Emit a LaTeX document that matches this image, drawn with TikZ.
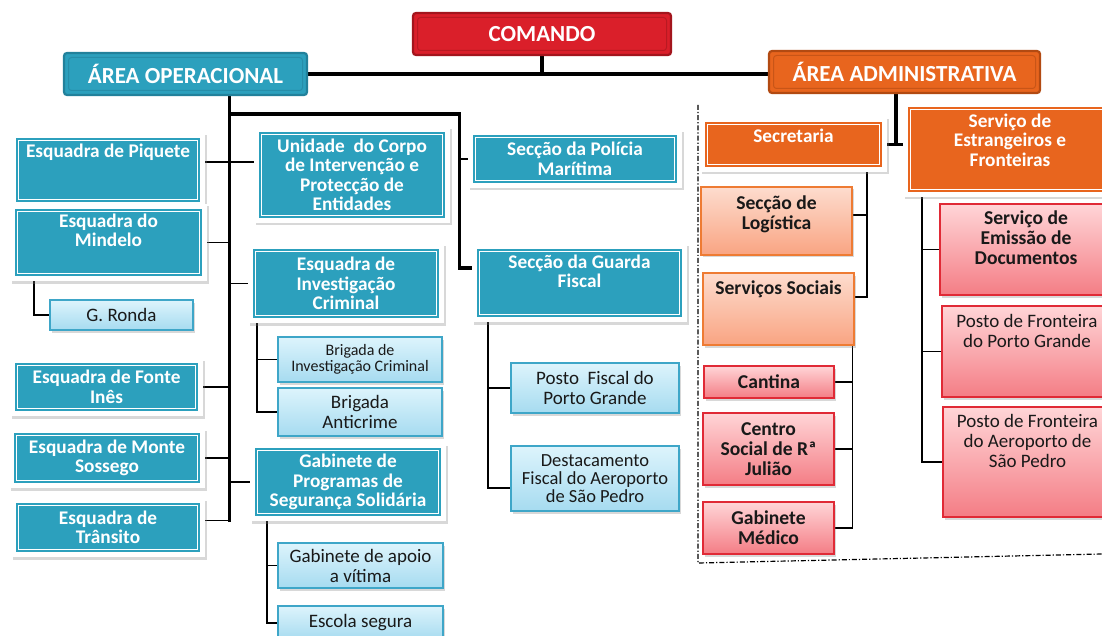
\documentclass[tikz,border=0pt]{standalone}
\usepackage{fontspec}
\setmainfont{Carlito}
\usetikzlibrary{shadows}
\definecolor{tealc}{HTML}{2CA0BD}
\definecolor{tealD}{HTML}{22819B}
\definecolor{orc}{HTML}{E8651E}
\definecolor{orD}{HTML}{B24A12}
\definecolor{redc}{HTML}{DA1F2A}
\definecolor{redD}{HTML}{A3151D}
\definecolor{lbT}{HTML}{DDF4FC}
\definecolor{lbB}{HTML}{A6DBF0}
\definecolor{lbD}{HTML}{3EA6C8}
\definecolor{loT}{HTML}{FDDCCE}
\definecolor{loB}{HTML}{F9A482}
\definecolor{loD}{HTML}{EE7B33}
\definecolor{pkT}{HTML}{FFD5D7}
\definecolor{pkB}{HTML}{F47D85}
\definecolor{pkD}{HTML}{E02A36}
\pgfdeclarelayer{back}\pgfdeclarelayer{bg}\pgfsetlayers{back,bg,main}
\tikzset{
  shd/.style={drop shadow={shadow xshift=1.5pt,shadow yshift=-2.5pt,opacity=.3}},
  tbox/.style={fill=white, draw=none, inner sep=1pt, shd, path picture={
    \fill[#1] ([shift={(5pt,5pt)}]path picture bounding box.south west) rectangle ([shift={(-5pt,-5pt)}]path picture bounding box.north east);
    \draw[white,line width=1pt] ([shift={(7.5pt,7.5pt)}]path picture bounding box.south west) rectangle ([shift={(-7.5pt,-7.5pt)}]path picture bounding box.north east);}},
  hbox/.style 2 args={fill=#1, draw=#2, line width=2.2pt, rounded corners=3pt, inner sep=1pt, text=white,
    font=\bfseries\fontsize{23}{25}\selectfont, path picture={
    \draw[#2!60!#1, line width=1pt] ([shift={(4.5pt,4.5pt)}]path picture bounding box.south west) rectangle ([shift={(-4.5pt,-4.5pt)}]path picture bounding box.north east);}},
  gbox/.style n args={3}{top color=#1, bottom color=#2, draw=#3, line width=1.3pt, inner sep=1pt, shd},
  lbox/.style={gbox={lbT}{lbB}{lbD}},
  obox/.style={gbox={loT}{loB}{loD}},
  pbox/.style={gbox={pkT}{pkB}{pkD}},
  wtxt/.style={text=white, align=center, font=\bfseries\fontsize{19.3}{19.5}\selectfont},
  dtxt/.style={text=black!90, align=center, font=\fontsize{19}{20}\selectfont},
  dbtxt/.style={text=black!90, align=center, font=\bfseries\fontsize{19.6}{20}\selectfont},
  stxt/.style={text=black!90, align=center, font=\fontsize{16}{16}\selectfont},
  thk/.style={line width=3.2pt, line cap=rect},
  br/.style={line width=1.8pt},
  sb/.style={line width=1.3pt},
}
\newcommand{\mkbox}[7]{\node[#2, minimum width={#5-#3}, minimum height={#6-#4}] (#1) at ({(#3+#5)/2},{(#4+#6)/2}) {#7};}
\newcommand{\mktop}[9]{\node[#2, minimum width={#6-#4}, minimum height={#7-#5}] (#1) at ({(#4+#6)/2},{(#5+#7)/2}) {};
  \node[#3, anchor=north, inner sep=0pt] (#1-t) at ({(#4+#6)/2},{#8-13.7}) {\strut #9};}
\begin{document}
\begin{tikzpicture}[x=1pt,y=-1pt]
\useasboundingbox (0,0) rectangle (1102,636);
\begin{pgfonlayer}{back}\fill[white] (0,0) rectangle (1102,636);\end{pgfonlayer}
% heads
\mkbox{cmd}{hbox={redc}{redD}}{413}{13}{671}{55}{COMANDO}
\mkbox{ao}{hbox={tealc}{tealD}}{64}{53}{307}{95}{ÁREA OPERACIONAL}
\mkbox{aa}{hbox={orc}{orD}}{769}{51}{1040}{93}{ÁREA ADMINISTRATIVA}
% operational
\mktop{piq}{tbox=tealc}{wtxt}{11}{133}{205}{207}{157}{Esquadra de Piquete}
\mktop{mind}{tbox=tealc}{wtxt}{10}{204}{207}{281}{227}{Esquadra do\\Mindelo}
\mkbox{ronda}{lbox,dtxt}{50}{300}{193}{330}{G. Ronda}
\mkbox{fonte}{tbox=tealc,wtxt}{10}{358}{203}{416}{Esquadra de Fonte\\Inês}
\mkbox{monte}{tbox=tealc,wtxt}{9}{428}{205}{488}{Esquadra de Monte\\Sossego}
\mkbox{tra}{tbox=tealc,wtxt}{11}{498}{205}{557}{Esquadra de\\Trânsito}
\mkbox{unid}{tbox=tealc,wtxt}{254}{127}{450}{223}{Unidade\ \ do Corpo\\de Intervenção e\\Protecção de\\Entidades}
\mkbox{eic}{tbox=tealc,wtxt}{248}{244}{444}{323}{Esquadra de\\Investigação\\Criminal}
\mkbox{bic}{lbox,stxt}{278}{337}{442}{382}{Brigada de\\Investigação Criminal}
\mkbox{banti}{lbox,dtxt}{278}{388}{442}{436}{Brigada\\Anticrime}
\mkbox{gpss}{tbox=tealc,wtxt}{250}{443}{446}{521}{Gabinete de\\Programas de\\Segurança Solidária}
\mkbox{gav}{lbox,dtxt}{278}{543}{443}{588}{Gabinete de apoio\\a vítima}
\mkbox{escola}{lbox,dtxt}{278}{606}{443}{640}{Escola segura}
\mkbox{spm}{tbox=tealc,wtxt}{468}{130}{682}{188}{Secção da Polícia\\Marítima}
\mktop{sgf}{tbox=tealc}{wtxt}{472}{244}{687}{322}{268}{Secção da Guarda\\Fiscal}
\mkbox{pfpg}{lbox,dtxt}{511}{363}{679}{413}{Posto\ \ Fiscal do\\Porto Grande}
\mkbox{dfa}{lbox,dtxt,font=\fontsize{18.5}{18}\selectfont}{511}{446}{679}{511}{Destacamento\\Fiscal do Aeroporto\\de São Pedro}
% administrative
\mktop{sec}{tbox=orc}{wtxt}{700}{117}{887}{172}{142}{Secretaria}
\mktop{sef}{tbox=orc}{wtxt}{903}{102}{1117}{197}{127}{Serviço de\\Estrangeiros e\\Fronteiras}
\mktop{log}{obox}{dbtxt}{701}{187}{852}{255}{209}{Secção de\\Logística}
\mktop{ss}{obox}{dbtxt}{703}{273}{854}{345}{294}{Serviços Sociais}
\mkbox{cant}{pbox,dbtxt}{704}{366}{834}{398}{Cantina}
\mkbox{cent}{pbox,dbtxt}{703}{413}{834}{485}{Centro\\Social de Rª\\Julião}
\mkbox{gmed}{pbox,dbtxt}{703}{502}{834}{554}{Gabinete\\Médico}
\mktop{sed}{pbox}{dbtxt}{940}{204}{1112}{295}{224}{Serviço de\\Emissão de\\Documentos}
\mktop{pfr1}{pbox}{dtxt}{942}{306}{1112}{397}{327}{Posto de Fronteira\\do Porto Grande}
\mktop{pfr2}{pbox}{dtxt}{943}{407}{1112}{517}{427}{Posto de Fronteira\\do Aeroporto de\\São Pedro}
% connectors
\begin{pgfonlayer}{bg}
\draw[thk] (ao.east) -- (ao.east -| aa.west);
\draw[thk] (cmd.south) -- (cmd.south |- ao.east);
\coordinate (spt) at ([xshift=44pt]ao.south);
\coordinate (tr1) at ([yshift=7pt]tra.east);
\draw[thk] (spt) -- (spt |- tr1);
\draw[br] (tr1) -- (spt |- tr1);
\coordinate (tb) at ([yshift=-18pt]spt);
\coordinate (g1) at ([yshift=15pt]sgf.west);
\coordinate (vx) at ([xshift=-12pt]g1);
\draw[thk] (tb) -| (vx) -- (g1);
\draw[br] (spm.west) -- (spm.west -| vx);
\coordinate (p1) at ([yshift=8pt]piq.east);
\draw[br] (p1) -- (p1 -| unid.west);
\draw[br] (mind.east) -- (mind.east -| spt);
\draw[br] (fonte.east) -- (fonte.east -| spt);
\draw[br] (monte.east) -- (monte.east -| spt);
\draw[br] (eic.west) -- (eic.west -| spt);
\draw[br] (gpss.west) -- (gpss.west -| spt);
\draw[sb] ([xshift=-74.5pt]mind.south) |- (ronda.west);
\draw[sb] ([xshift=-89pt]eic.south) |- (bic.west);
\draw[sb] ([xshift=-89pt]eic.south) |- (banti.west);
\draw[sb] ([xshift=-81pt]gpss.south) |- (gav.west);
\draw[sb] ([xshift=-81pt]gpss.south) |- (escola.west);
\draw[sb] ([xshift=-91.5pt]sgf.south) |- (pfpg.west);
\draw[sb] ([xshift=-91.5pt]sgf.south) |- ([yshift=-9.5pt]dfa.west);
\draw[thk] ([xshift=-8.5pt]aa.south) -- ([xshift=-8.5pt]aa.south |- sec.east);
\draw[thk] (sec.east) -- (sec.east -| sef.west);
\draw[sb] ([xshift=73.5pt]sec.south) |- ([yshift=6pt]log.east);
\draw[sb] ([xshift=73.5pt]sec.south) |- ([yshift=12pt]ss.east);
\draw[sb] ([xshift=-2pt]ss.south east) |- (cant.east);
\draw[sb] ([xshift=-2pt]ss.south east) |- (cent.east);
\draw[sb] ([xshift=-2pt]ss.south east) |- (gmed.east);
\draw[sb] ([xshift=-88pt]sef.south) |- (sed.west);
\draw[sb] ([xshift=-88pt]sef.south) |- (pfr1.west);
\draw[sb] ([xshift=-88pt]sef.south) |- (pfr2.west);
\coordinate (d1) at (698,105);
\coordinate (d2) at (698,563);
\coordinate (d3) at (1102,554);
\draw[line width=1.2pt, dash pattern=on 5pt off 2pt on 1.2pt off 2pt] (d1) -- (d2) -- (d3);
\end{pgfonlayer}
\end{tikzpicture}
\end{document}
